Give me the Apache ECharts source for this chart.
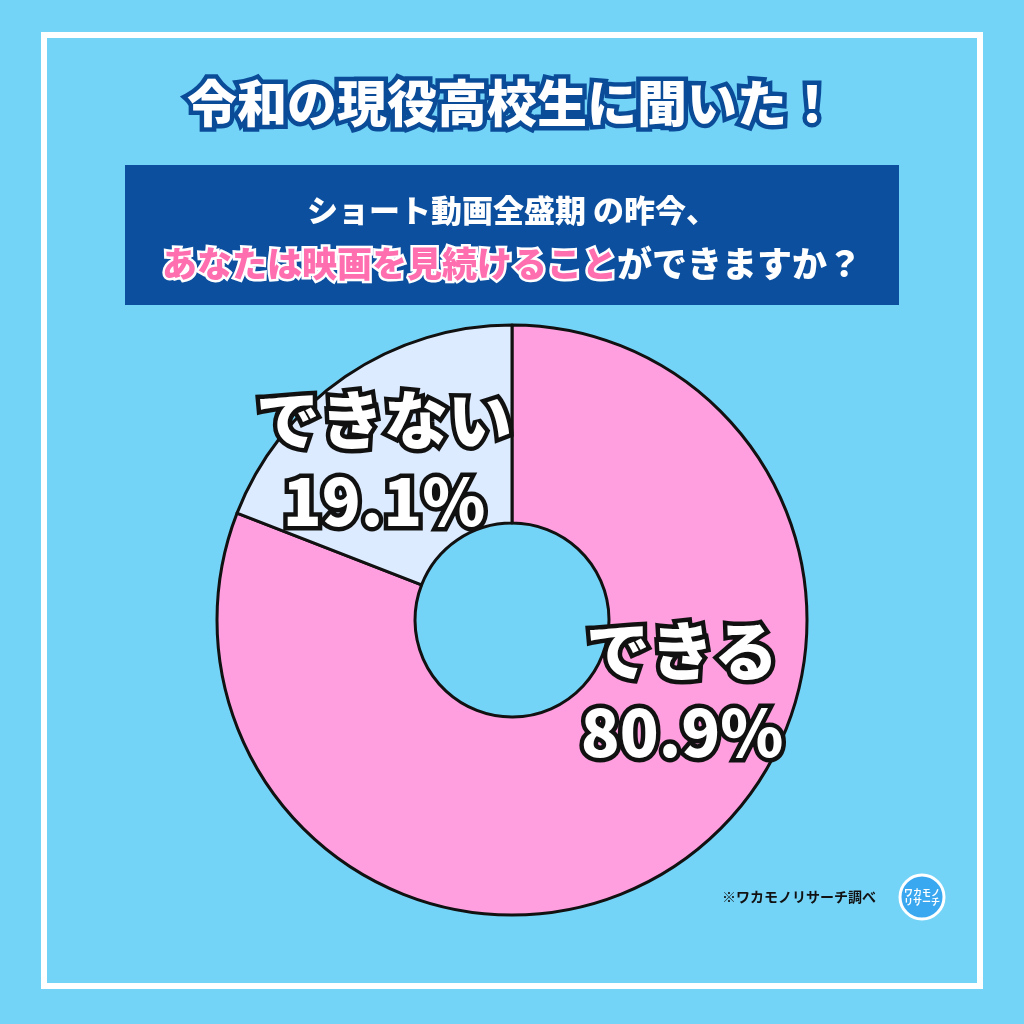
<!DOCTYPE html>
<html lang="ja">
<head>
<meta charset="UTF-8">
<script src="https://cdn.jsdelivr.net/npm/echarts@6/dist/echarts.min.js"></script>
<style>
  html, body {margin:0; padding:0; background:#74d4f8;}
  #main {width:1024px; height:1024px;}
</style>
</head>
<body>
<div id="main"></div>
<script>
const categories = ['できる', 'できない'];
const values = [80.9, 19.1];
const colors = ['#ff9fdf', '#dcebff'];

const chart = echarts.init(document.getElementById('main'));
const font = '"Noto Sans CJK JP", sans-serif';

function bigLabel(i, x, y) {
  return {type:'text', z:100, x:x, y:y, style:{
    text:categories[i]+'\n'+values[i]+'%', font:'900 64px '+font,
    fill:'#fff', stroke:'#111', lineWidth:9, align:'center', verticalAlign:'middle', lineHeight:82
  }};
}

chart.setOption({
  backgroundColor: '#74d4f8',
  graphic: [
    {type:'rect', shape:{x:44, y:35, width:936, height:951}, style:{fill:'none', stroke:'#fff', lineWidth:6}},
    {type:'text', x:512, y:103, style:{text:'令和の現役高校生に聞いた！', font:'900 50px '+font, fill:'#fff', stroke:'#0b4c99', lineWidth:9, align:'center', verticalAlign:'middle'}},
    {type:'rect', shape:{x:125, y:165, width:774, height:140}, style:{fill:'#0b4f9e'}},
    {type:'text', x:512, y:210, style:{text:'ショート動画全盛期 の昨今、', font:'900 31px '+font, fill:'#fff', align:'center', verticalAlign:'middle'}},
    {type:'text', x:512, y:264, style:{
      rich:{
        p:{font:'900 35px '+font, fill:'#ff6fb0', stroke:'#fff', lineWidth:5},
        w:{font:'900 35px '+font, fill:'#fff'}
      },
      text:'{p|あなたは映画を見続けること}{w|ができますか？}', align:'center', verticalAlign:'middle'
    }},
    {type:'text', x:722, y:897, style:{text:'※ワカモノリサーチ調べ', font:'bold 14px '+font, fill:'#111', verticalAlign:'middle'}},
    {type:'circle', shape:{cx:922, cy:897, r:22}, style:{fill:'#3aa8f0', stroke:'#fff', lineWidth:3}},
    {type:'text', x:922, y:897, style:{text:'ワカモノ\nリサーチ', font:'bold 9px '+font, fill:'#fff', align:'center', verticalAlign:'middle'}},
    bigLabel(0, 682, 692),
    bigLabel(1, 384, 461)
  ],
  series: [{
    type:'pie',
    center:[512, 620],
    radius:[97, 295],
    startAngle:90,
    clockwise:true,
    silent:true,
    z:1,
    itemStyle:{borderColor:'#111', borderWidth:3},
    label:{show:false},
    data: categories.map((c, i) => ({
      name:c, value:values[i], itemStyle:{color:colors[i]}
    }))
  }]
});
</script>
</body>
</html>
